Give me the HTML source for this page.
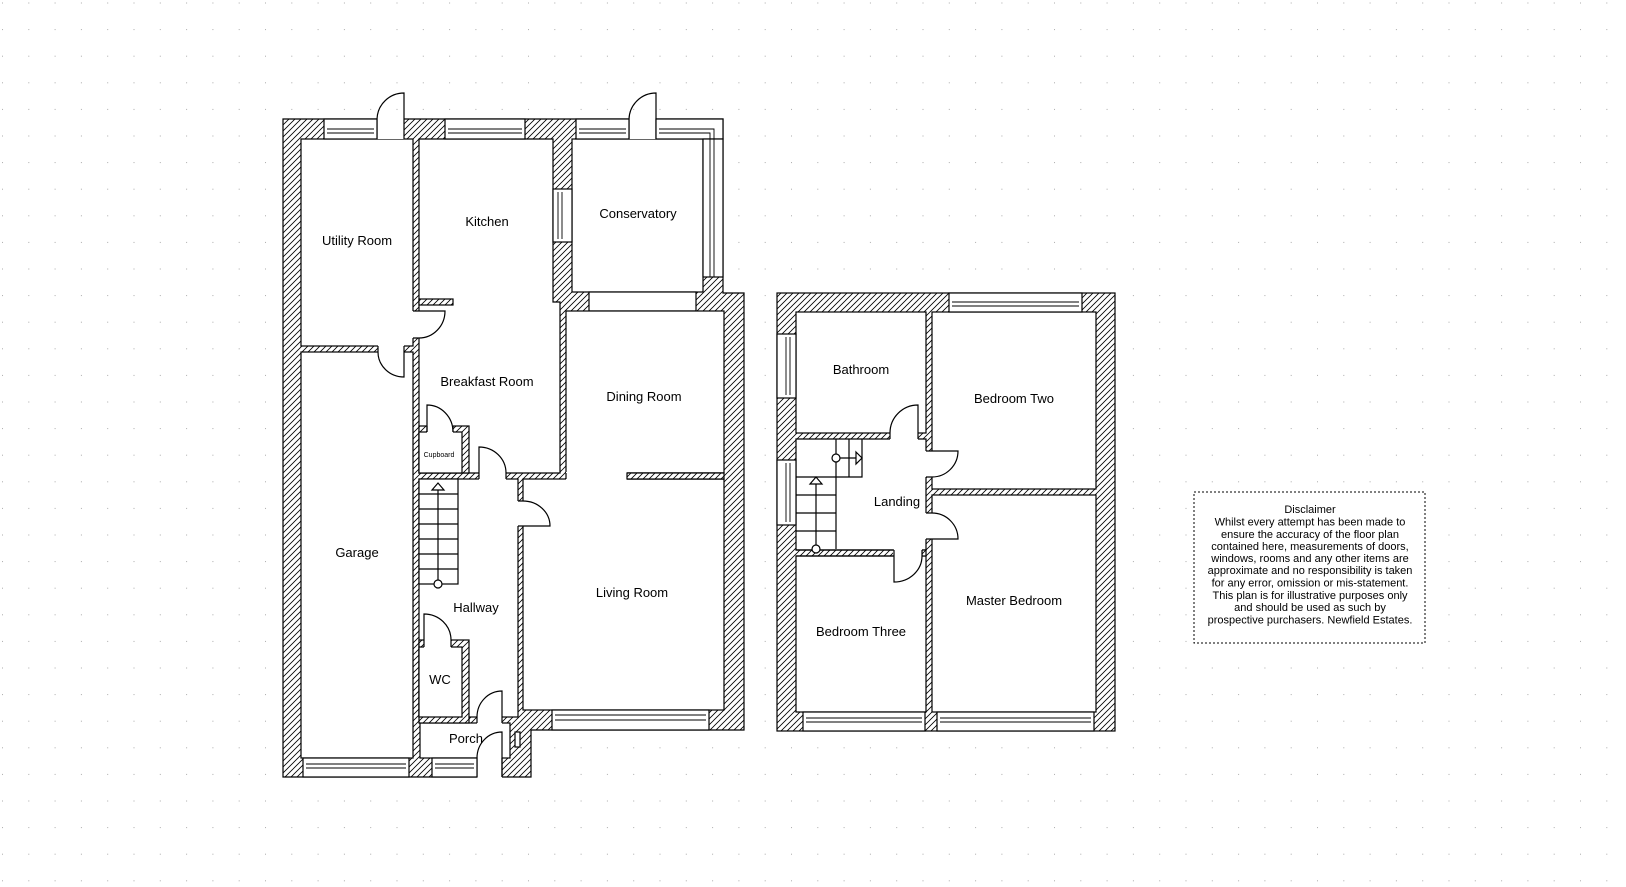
<!DOCTYPE html>
<html><head><meta charset="utf-8"><style>
html,body{margin:0;padding:0;background:#fff;}
svg{display:block;}
text{font-family:"Liberation Sans",sans-serif;fill:#000;}
</style></head><body>
<svg width="1626" height="887" viewBox="0 0 1626 887" xmlns="http://www.w3.org/2000/svg">
<defs>
<pattern id="dots" patternUnits="userSpaceOnUse" width="26.3" height="26.6" x="2" y="2.5">
<rect x="0" y="0" width="1" height="1" fill="#aaa"/>
</pattern>
<pattern id="hatch" patternUnits="userSpaceOnUse" width="6" height="6">
<rect width="6" height="6" fill="#fff"/>
<path d="M-1,7 L7,-1 M-1,1 L1,-1 M5,7 L7,5" stroke="#000" stroke-width="0.8"/>
</pattern>
</defs>
<rect width="1626" height="887" fill="url(#dots)"/>

<g stroke="#000" stroke-width="1.2">
<path d="M283,119 H723 V277 V293 H744 V730 H531 V777 H283 Z" fill="url(#hatch)"/>
<rect x="301" y="139" width="112" height="207" fill="#fff"/>
<rect x="301" y="352" width="112" height="406" fill="#fff"/>
<path d="M419,139 H553 V302 H560 V473 H419 Z" fill="#fff"/>
<rect x="572" y="139" width="131" height="153" fill="#fff"/>
<rect x="589" y="292" width="107" height="19" fill="#fff"/>
<rect x="566" y="311" width="158" height="162" fill="#fff"/>
<rect x="523" y="479" width="201" height="231" fill="#fff"/>
<rect x="566" y="472" width="61" height="8" fill="#fff" stroke="none"/>
<path d="M566,473 V479 M627,473 H724 M627,479 H724" fill="none"/>
<rect x="627" y="473" width="97" height="6" fill="url(#hatch)"/>
<rect x="419" y="479" width="99" height="238" fill="#fff"/>
<rect x="420" y="723" width="90" height="35" fill="#fff"/>
<rect x="419" y="299" width="34" height="6" fill="url(#hatch)"/>
<rect x="419" y="426" width="50" height="47" fill="url(#hatch)"/>
<rect x="419" y="432" width="43" height="41" fill="#fff"/>
<rect x="419" y="640" width="50" height="83" fill="url(#hatch)"/>
<rect x="419" y="647" width="43" height="70" fill="#fff"/>
<rect x="377" y="118" width="27" height="21" fill="#fff" stroke="none"/>
<rect x="629" y="118" width="27" height="21" fill="#fff" stroke="none"/>
<rect x="412" y="311" width="8" height="27" fill="#fff" stroke="none"/>
<rect x="378" y="345" width="26" height="8" fill="#fff" stroke="none"/>
<rect x="427" y="425" width="26" height="8" fill="#fff" stroke="none"/>
<rect x="479" y="472" width="27" height="8" fill="#fff" stroke="none"/>
<rect x="517" y="501" width="7" height="25" fill="#fff" stroke="none"/>
<rect x="424" y="639" width="27" height="9" fill="#fff" stroke="none"/>
<rect x="477" y="716" width="25" height="8" fill="#fff" stroke="none"/>
<rect x="477" y="757" width="25" height="21" fill="#fff" stroke="none"/>
<path d="M377,119 V139 M404,119 V139 M629,119 V139 M656,119 V139 M413,311 H419 M413,338 H419 M378,346 V352 M404,346 V352 M427,426 V432 M453,426 V432 M479,473 V479 M506,473 V479 M518,501 H523 M518,526 H523 M424,640 V647 M451,640 V647 M477,717 V723 M502,717 V723 M477,758 V777 M502,758 V777" fill="none"/>
<g fill="#fff">
<rect x="324" y="119" width="53" height="20"/><rect x="445" y="119" width="80" height="20"/>
<rect x="576" y="119" width="53" height="20"/><rect x="656" y="119" width="67" height="20"/>
<rect x="703" y="139" width="20" height="138"/>
<rect x="553" y="189" width="19" height="53"/>
<rect x="303" y="758" width="106" height="19"/>
<rect x="432" y="758" width="45" height="19"/>
<rect x="552" y="710" width="157" height="20"/>
<rect x="515" y="732" width="5" height="15"/>
</g>
<path d="M579,129 H626 M579,133 H626 M659,129 H714 V277 M659,133 H710 V277 M327,129 H374 M327,133 H374 M448,129 H522 M448,133 H522 M558,192 V239 M562,192 V239 M306,764 H406 M306,768 H406 M435,764 H474 M435,768 H474 M555,715 H706 M555,720 H706" fill="none" stroke-width="0.9"/>
<rect x="419" y="479" width="39" height="105" fill="#fff"/>
<path d="M419,494 H458 M419,509 H458 M419,524 H458 M419,539 H458 M419,554 H458 M419,569 H458 M438,584 V484" fill="none"/>
<path d="M432,490 L438,483 L444,490 Z" fill="#fff"/>
<circle cx="438" cy="584" r="4" fill="#fff"/>
<g fill="none">
<path d="M404,119 V93 A27,27 0 0 0 377,119"/>
<path d="M656,119 V93 A27,27 0 0 0 629,119"/>
<path d="M419,311 H445 A26,27 0 0 1 419,338"/>
<path d="M404,352 V377 A26,25 0 0 1 378,352"/>
<path d="M427,432 V405 A26,27 0 0 1 453,432"/>
<path d="M479,473 V447 A27,26 0 0 1 506,473"/>
<path d="M523,526 H550 A27,25 0 0 0 523,501"/>
<path d="M424,640 V614 A27,26 0 0 1 451,640"/>
<path d="M502,717 V691 A25,26 0 0 0 477,717"/>
<path d="M502,777 V732 A25,26 0 0 0 477,758"/>
</g>

<rect x="777" y="293" width="338" height="438" fill="url(#hatch)"/>
<rect x="796" y="312" width="130" height="121" fill="#fff"/>
<rect x="932" y="312" width="164" height="177" fill="#fff"/>
<rect x="932" y="495" width="164" height="217" fill="#fff"/>
<rect x="796" y="556" width="130" height="156" fill="#fff"/>
<path d="M796,439 H926 V550 H796 Z" fill="#fff"/>
<rect x="894" y="550" width="28" height="6" fill="#fff" stroke="none"/>
<rect x="922" y="550" width="4" height="6" fill="url(#hatch)"/>
<rect x="890" y="432" width="28" height="8" fill="#fff" stroke="none"/>
<rect x="925" y="451" width="8" height="26" fill="#fff" stroke="none"/>
<rect x="925" y="513" width="8" height="26" fill="#fff" stroke="none"/>
<rect x="893" y="549" width="29" height="8" fill="#fff" stroke="none"/>
<path d="M890,433 V439 M918,433 V439 M926,451 H932 M926,477 H932 M926,513 H932 M926,539 H932 M894,550 V556 M922,550 V556 M796,550 H894 M796,556 H894" fill="none"/>
<g fill="#fff">
<rect x="949" y="293" width="133" height="19"/>
<rect x="777" y="334" width="19" height="64"/>
<rect x="777" y="460" width="19" height="65"/>
<rect x="803" y="712" width="122" height="19"/>
<rect x="937" y="712" width="157" height="19"/>
</g>
<path d="M952,302 H1079 M952,306 H1079 M786,337 V395 M790,337 V395 M786,463 V522 M790,463 V522 M806,718 H922 M806,722 H922 M940,718 H1091 M940,722 H1091" fill="none" stroke-width="0.9"/>
<path d="M796,477 H862 V439 M836,439 V549 M849,439 V477 M796,495 H836 M796,513 H836 M796,531 H836 M816,549 V484 M836,458 H857" fill="none"/>
<path d="M810,484 L816,477 L822,484 Z" fill="#fff"/>
<path d="M856,452 L862,458 L856,464 Z" fill="#fff"/>
<circle cx="836" cy="458" r="4" fill="#fff"/>
<circle cx="816" cy="549" r="4" fill="#fff"/>
<g fill="none">
<path d="M918,433 V405 A28,28 0 0 0 890,433"/>
<path d="M932,451 H958 A26,26 0 0 1 932,477"/>
<path d="M932,539 H958 A26,26 0 0 0 932,513"/>
<path d="M894,556 V582 A28,26 0 0 0 922,556"/>
</g>
<rect x="1194" y="492" width="231" height="151" fill="#fff" stroke-dasharray="2,2" stroke-width="1"/>
</g>

<g font-size="13" text-anchor="middle">
<text x="357" y="245">Utility Room</text>
<text x="487" y="226">Kitchen</text>
<text x="638" y="218">Conservatory</text>
<text x="487" y="386">Breakfast Room</text>
<text x="644" y="401">Dining Room</text>
<text x="357" y="557">Garage</text>
<text x="476" y="612">Hallway</text>
<text x="632" y="597">Living Room</text>
<text x="440" y="684">WC</text>
<text x="466" y="743">Porch</text>
<text x="439" y="457" font-size="7">Cupboard</text>
<text x="861" y="374">Bathroom</text>
<text x="1014" y="403">Bedroom Two</text>
<text x="897" y="506">Landing</text>
<text x="1014" y="605">Master Bedroom</text>
<text x="861" y="636">Bedroom Three</text>
</g>
<g font-size="11" text-anchor="middle">
<text x="1310" y="513">Disclaimer</text>
<text x="1310" y="525.5">Whilst every attempt has been made to</text>
<text x="1310" y="538">ensure the accuracy of the floor plan</text>
<text x="1310" y="550">contained here, measurements of doors,</text>
<text x="1310" y="562">windows, rooms and any other items are</text>
<text x="1310" y="574">approximate and no responsibility is taken</text>
<text x="1310" y="586.5">for any error, omission or mis-statement.</text>
<text x="1310" y="599">This plan is for illustrative purposes only</text>
<text x="1310" y="611">and should be used as such by</text>
<text x="1310" y="623.5">prospective purchasers. Newfield Estates.</text>
</g>
</svg>
</body></html>
